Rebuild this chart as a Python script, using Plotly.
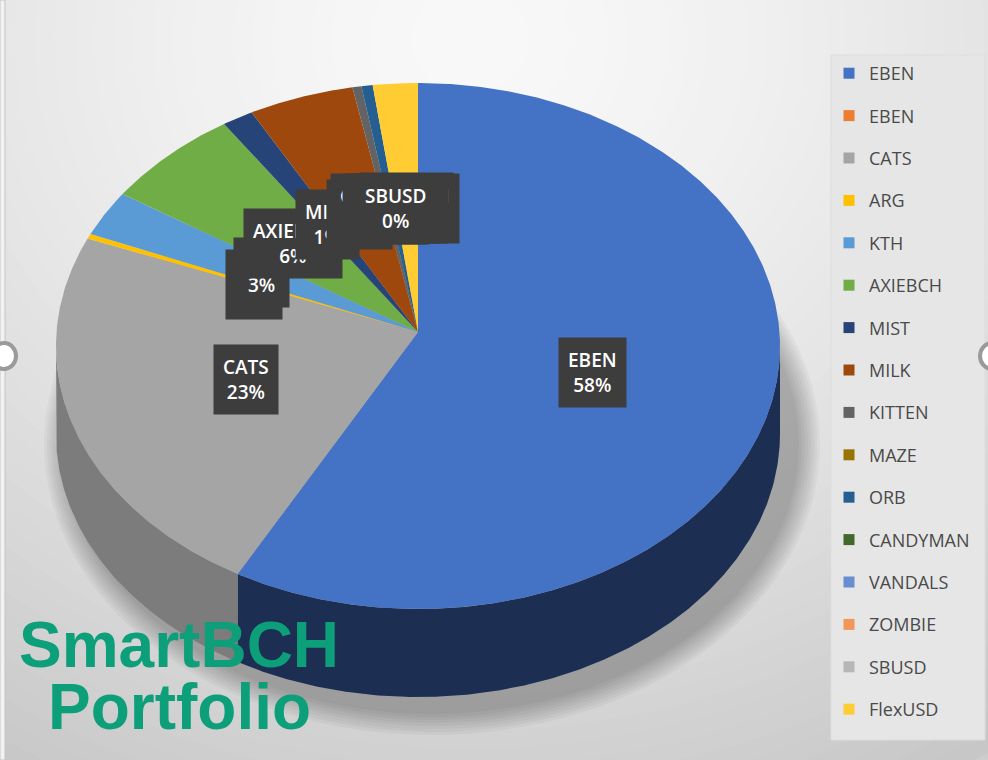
import numpy as np
import plotly.graph_objects as go

# slices, clockwise from 12 o'clock (percent of portfolio)
labels = ["EBEN", "EBEN", "CATS", "ARG", "KTH", "AXIEBCH", "MIST", "MILK",
          "KITTEN", "MAZE", "ORB", "CANDYMAN", "VANDALS", "ZOMBIE", "SBUSD", "FlexUSD"]
values = [58.3, 0, 23.4, 0.3, 2.8, 6.2, 1.4, 4.7,
          0.4, 0, 0.5, 0, 0, 0, 0, 2.0]
colors = ["#4472C4", "#ED7D31", "#A5A5A5", "#FFC000", "#5B9BD5", "#70AD47", "#264478", "#9E480E",
          "#636363", "#997300", "#255E91", "#43682B", "#698ED0", "#F1975A", "#B7B7B7", "#FFCD33"]
# the data label of the 2nd EBEN slice is not shown on the chart
hidden_label = [1]

# geometry of the tilted pie (pixel space of the 988x760 page)
W, H = 988, 760
cx, cy = 418, 346        # centre of the rim ellipse
ax, ay = 418, 332        # apex where the slices meet (perspective)
rx, ry = 362, 263
depth = 88


def shade(hexcol, f):
    r, g, b = (int(hexcol[i:i + 2], 16) for i in (1, 3, 5))
    return "#%02x%02x%02x" % (int(r * f), int(g * f), int(b * f))


def arc_pts(a, b, dy=0):
    n = max(int(abs(b - a) / 0.4) + 2, 2)
    t = np.radians(np.linspace(a, b, n))
    return cx + rx * np.cos(t), cy + ry * np.sin(t) + dy


total = sum(values)
ends = -90 + 360 * np.cumsum(values) / total
starts = np.concatenate([[-90], ends[:-1]])

fig = go.Figure()

# side walls (front half only)
for lab, v, c, a, b in zip(labels, values, colors, starts, ends):
    a2, b2 = max(a, 0), min(b, 180)
    if v == 0 or a2 >= b2:
        continue
    xt, yt = arc_pts(a2, b2)
    xb, yb = arc_pts(a2, b2, depth)
    mid = (a2 + b2) / 2
    f = 0.42 + 0.5 * max(0, (mid - 90) / 90)
    fig.add_trace(go.Scatter(
        x=np.concatenate([xt, xb[::-1], xt[:1]]),
        y=np.concatenate([yt, yb[::-1], yt[:1]]),
        fill="toself", fillcolor=shade(c, f), mode="lines",
        line=dict(width=0), showlegend=False, hoverinfo="skip"))

# top faces
for lab, v, c, a, b in zip(labels, values, colors, starts, ends):
    if v == 0:
        continue
    xa, ya = arc_pts(a, b)
    fig.add_trace(go.Scatter(
        x=np.concatenate([[ax], xa, [ax]]),
        y=np.concatenate([[ay], ya, [ay]]),
        fill="toself", fillcolor=c, mode="lines", line=dict(width=0),
        showlegend=False, name=lab,
        hovertemplate=f"{lab}: {v / total:.0%}<extra></extra>"))

# legend entries
for i, (lab, c) in enumerate(zip(labels, colors)):
    fig.add_trace(go.Scatter(
        x=[None], y=[None], mode="markers", name=lab, legendgroup=str(i),
        marker=dict(symbol="square", size=11, color=c)))

# background gradient + pie shadow
shapes = []
steps = 48
for k in range(steps):
    s = 1 - k / steps
    lv = 249 - 50 * s ** 1.5
    shapes.append(dict(type="circle", layer="below", xref="x", yref="y",
                       x0=470 - 950 * s, x1=470 + 950 * s,
                       y0=40 - 850 * s, y1=40 + 850 * s,
                       fillcolor="rgb(%d,%d,%d)" % (lv, lv, lv), line_width=0))
for k in range(8):
    g = 26 - k * 3
    shapes.append(dict(type="circle", layer="below", xref="x", yref="y",
                       x0=cx + 14 - rx - g, x1=cx + 14 + rx + g,
                       y0=cy + depth - ry + 8 - g, y1=cy + depth + ry + 12 + g,
                       fillcolor="rgba(0,0,0,0.035)", line_width=0))
# legend box
shapes.append(dict(type="rect", layer="below", xref="x", yref="y",
                   x0=831, x1=985, y0=55, y1=740,
                   fillcolor="#e6e6e6", line=dict(color="#dddddd", width=1)))
# page edge decorations
shapes.append(dict(type="rect", xref="x", yref="y", x0=0, x1=5, y0=0, y1=H,
                   fillcolor="#f2f2f2", line=dict(color="#c4c4c4", width=1)))
for ex in (4, 992):
    shapes.append(dict(type="circle", xref="x", yref="y", x0=ex - 12, x1=ex + 12,
                       y0=343, y1=369, fillcolor="#ffffff",
                       line=dict(color="#9a9a9a", width=4)))

# data labels (zero-value ones are stacked on top, as in the chart)
order = [i for i in range(len(values)) if values[i] > 0] + \
        [i for i in range(len(values)) if values[i] == 0]
annotations = []
for i in order:
    if i in hidden_label:
        continue
    m = np.radians((starts[i] + ends[i]) / 2)
    px, py = cx + rx * np.cos(m), cy + ry * np.sin(m)
    annotations.append(dict(
        x=ax + 0.5 * (px - ax), y=ay + 0.5 * (py - ay),
        xref="x", yref="y", showarrow=False,
        text=f"{labels[i]}<br>{values[i] / total:.0%}", align="center",
        font=dict(family="Open Sans", size=19, color="#ffffff", weight=600),
        bgcolor="#3d3d3d", borderpad=9))

annotations += [
    dict(x=179, y=645, xref="x", yref="y", showarrow=False, text="<b>SmartBCH</b>",
         font=dict(family="Liberation Sans", size=64, color="#0c9f79")),
    dict(x=179, y=707, xref="x", yref="y", showarrow=False, text="<b>Portfolio</b>",
         font=dict(family="Liberation Sans", size=64, color="#0c9f79")),
]

fig.update_layout(
    width=W, height=H,
    margin=dict(l=0, r=0, t=0, b=0),
    paper_bgcolor="#cdcdcd", plot_bgcolor="#cdcdcd",
    xaxis=dict(range=[0, W], visible=False, fixedrange=True),
    yaxis=dict(range=[H, 0], visible=False, fixedrange=True),
    shapes=shapes, annotations=annotations,
    showlegend=True,
    legend=dict(x=829 / W, y=1 - 55 / H, xanchor="left", yanchor="top",
                bgcolor="rgba(0,0,0,0)", borderwidth=0, tracegroupgap=16,
                font=dict(family="Open Sans", size=18, color="#4a4a4a"),
                itemwidth=30),
)

fig.write_html("out.html", config={"displayModeBar": False},
               post_script="document.body.style.margin='0';")
